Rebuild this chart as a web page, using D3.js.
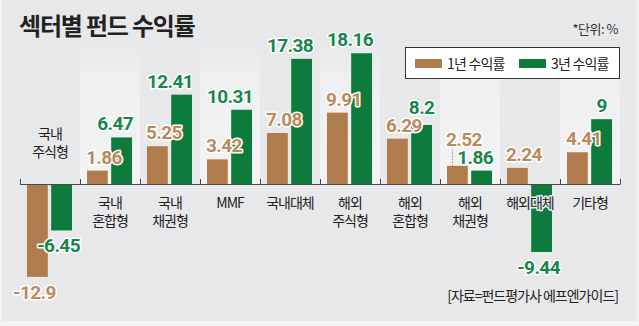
<!DOCTYPE html>
<html><head><meta charset="utf-8">
<script src="https://cdn.jsdelivr.net/npm/d3@7"></script>
<style>
html,body{margin:0;padding:0;background:#f4f4f5;}
svg{display:block;}
.kr{font-family:"Noto Sans CJK KR","Noto Sans",sans-serif;}
.num{font-family:Roboto,"Liberation Sans",sans-serif;font-weight:700;}
</style></head>
<body>
<script>
const categories = ["국내\n주식형","국내\n혼합형","국내\n채권형","MMF","국내대체","해외\n주식형","해외\n혼합형","해외\n채권형","해외대체","기타형"];
const series = ["1년 수익률","3년 수익률"];
const oneYear = [-12.9, 1.86, 5.25, 3.42, 7.08, 9.91, 6.29, 2.52, 2.24, 4.41];
const threeYear = [-6.45, 6.47, 12.41, 10.31, 17.38, 18.16, 8.2, 1.86, -9.44, 9];
const oneYearLabels = ["-12.9","1.86","5.25","3.42","7.08","9.91","6.29","2.52","2.24","4.41"];
const threeYearLabels = ["-6.45","6.47","12.41","10.31","17.38","18.16","8.2","1.86","-9.44","9"];
const title = "섹터별 펀드 수익률";
const unitNote = "*단위: %";
const source = "[자료=펀드평가사 에프엔가이드]";

const W = 639, H = 326;
const barColors = ["#b17c4d", "#0d7b3b"];
const textColors = ["#b98a5d", "#17864a"];
const panel = "#e7e8ea";

const svg = d3.select("body").append("svg").attr("width", W).attr("height", H);
svg.append("rect").attr("x", 2).attr("y", 0).attr("width", W - 4).attr("height", 321).attr("fill", panel);

const defs = svg.append("defs");
const grad = defs.append("linearGradient").attr("id", "band").attr("x1", 0).attr("x2", 0).attr("y1", 1).attr("y2", 0);
grad.append("stop").attr("offset", "0%").attr("stop-color", "#fff").attr("stop-opacity", 0.5);
grad.append("stop").attr("offset", "75%").attr("stop-color", "#fff").attr("stop-opacity", 0.3);
grad.append("stop").attr("offset", "100%").attr("stop-color", "#fff").attr("stop-opacity", 0);

const x = d3.scaleBand().domain(categories).range([20, 620]).paddingInner(0).paddingOuter(0);
const xs = d3.scaleBand().domain(series).range([7, 52]).paddingInner(0.14);
const y = d3.scaleLinear().domain([-15, 20]).range([292, 40]);
const y0 = y(0);

// alternating column bands
svg.append("g").selectAll("rect").data(categories.filter((c, i) => i % 2 === 1)).join("rect")
  .attr("x", d => x(d)).attr("y", y(19.5)).attr("width", x.bandwidth()).attr("height", y0 - y(19.5))
  .attr("fill", "url(#band)");

// title
svg.append("text").attr("class", "kr").attr("x", 19).attr("y", 35)
  .attr("font-size", 24).attr("font-weight", 700).attr("letter-spacing", -1.2).attr("fill", "#222").text(title);
svg.append("text").attr("class", "kr").attr("x", 618).attr("y", 34).attr("text-anchor", "end")
  .attr("font-size", 13).attr("letter-spacing", -0.5).attr("fill", "#333").text(unitNote);

// legend
const lg = svg.append("g");
lg.append("rect").attr("x", 405.5).attr("y", 47.5).attr("width", 214).attr("height", 31)
  .attr("fill", "#fff").attr("stroke", "#333").attr("stroke-width", 1);
const legX = [415, 519];
series.forEach((s, i) => {
  lg.append("rect").attr("x", legX[i]).attr("y", 59).attr("width", 27).attr("height", 9).attr("fill", barColors[i]);
  lg.append("text").attr("class", "kr").attr("x", legX[i] + 32).attr("y", 68.5)
    .attr("font-size", 14).attr("letter-spacing", -0.8).attr("fill", "#222").text(s);
});

// bars
const data = categories.map((c, i) => ({c, i, vals: [oneYear[i], threeYear[i]], labels: [oneYearLabels[i], threeYearLabels[i]]}));
const bars = svg.append("g");
data.forEach(d => {
  d.vals.forEach((v, k) => {
    const bx = x(d.c) + xs(series[k]);
    bars.append("rect").attr("x", bx).attr("width", xs.bandwidth())
      .attr("y", v >= 0 ? y(v) : y0 + 1).attr("height", v >= 0 ? y0 - y(v) : y(v) - y0 - 1)
      .attr("fill", barColors[k]);
  });
});

// axis
svg.append("line").attr("x1", x.range()[0]).attr("x2", x.range()[1]).attr("y1", y0 + 0.5).attr("y2", y0 + 0.5)
  .attr("stroke", "#4a4a4a").attr("stroke-width", 1);
svg.append("g").selectAll("line").data(d3.range(categories.length + 1)).join("line")
  .attr("x1", i => 20 + i * x.step() + 0.5).attr("x2", i => 20 + i * x.step() + 0.5)
  .attr("y1", y0 - 5).attr("y2", y0 + 0.5).attr("stroke", "#4a4a4a").attr("stroke-width", 1);

// category labels
const cl = svg.append("g");
data.forEach(d => {
  const allNeg = d.vals.every(v => v < 0);
  const lines = d.c.split("\n");
  const cx = x(d.c) + x.bandwidth() / 2;
  lines.forEach((ln, j) => {
    const by = allNeg ? (y0 - 27 - (lines.length - 1 - j) * 18) : (y0 + 24 + j * 18);
    cl.append("text").attr("class", "kr").attr("x", cx).attr("y", by).attr("text-anchor", "middle")
      .attr("font-size", 14).attr("letter-spacing", -1).attr("fill", "#222")
      .attr("stroke", panel).attr("stroke-width", 3).attr("paint-order", "stroke").attr("stroke-linejoin", "round")
      .text(ln);
  });
});

// value labels
const vl = svg.append("g");
data.forEach(d => {
  const pos = [];
  d.vals.forEach((v, k) => {
    const bx = x(d.c) + xs(series[k]);
    const bw = xs.bandwidth();
    let tx, anchor, ty;
    if (v < 0) {
      tx = bx + bw / 2 - 3; anchor = "middle"; ty = y(v) + 22;
    } else {
      ty = y(v) - 7;
      if (d.labels[k].length <= 3) { tx = bx + bw / 2; anchor = "middle"; }
      else if (k === 0) { tx = bx - 1; anchor = "start"; }
      else { tx = bx + bw + 1; anchor = "end"; }
    }
    pos.push({tx, ty, anchor, v, bx, base: ty});
  });
  // keep two positive labels at least 18px apart: the higher value's label goes up
  if (pos[0].v >= 0 && pos[1].v >= 0 && Math.abs(pos[0].ty - pos[1].ty) < 18) {
    const hi = pos[0].v >= pos[1].v ? 0 : 1, lo = 1 - hi;
    pos[hi].ty = pos[lo].ty - 18;
    if (pos[hi].base - pos[hi].ty > 8) {
      vl.append("line").attr("x1", pos[hi].bx + 5.5).attr("x2", pos[hi].bx + 5.5)
        .attr("y1", pos[hi].ty + 4).attr("y2", y(d.vals[hi]))
        .attr("stroke", textColors[hi]).attr("stroke-width", 1).attr("stroke-dasharray", "1.5,1.5");
    }
  }
  pos.forEach((p, k) => {
    vl.append("text").attr("class", "num").attr("x", p.tx).attr("y", p.ty).attr("text-anchor", p.anchor)
      .attr("font-size", 19).attr("letter-spacing", -0.6).attr("fill", textColors[k])
      .attr("stroke", "#fff").attr("stroke-width", 3).attr("paint-order", "stroke").attr("stroke-linejoin", "round")
      .text(d.labels[k]);
  });
});

// source
svg.append("text").attr("class", "kr").attr("x", 618).attr("y", 301).attr("text-anchor", "end")
  .attr("font-size", 14).attr("letter-spacing", -1).attr("fill", "#222").text(source);
</script>
</body></html>
